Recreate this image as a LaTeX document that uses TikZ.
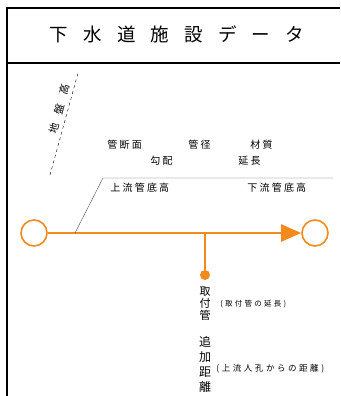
\documentclass[tikz,border=0pt]{standalone}
\usepackage{fontspec}
\setmainfont{Noto Sans CJK JP}
\newfontfamily\jpsp[LetterSpace=22]{Noto Sans CJK JP}
\newfontfamily\jpnote[LetterSpace=30]{Noto Sans CJK JP}
\newfontfamily\jptitle[LetterSpace=82]{Noto Sans CJK JP}
\newfontfamily\jpwide[LetterSpace=90]{Noto Sans CJK JP}
\usetikzlibrary{arrows.meta}
\definecolor{pipeorange}{HTML}{F28A1E}

\begin{document}
\begin{tikzpicture}[x=1pt, y=-1pt, thick,
  mh/.style = {draw=pipeorange, line width=1.6pt, circle, minimum size=26pt, inner sep=0pt, fill=white},
  lbl/.style = {inner sep=0pt, anchor=west, font=\jpsp\fontsize{10}{10}\selectfont},
  note/.style = {inner sep=0pt, anchor=west, font=\jpnote\fontsize{7.5}{8}\selectfont},
  vtext/.style = {inner sep=0pt, align=center}]
  \useasboundingbox (0,0) rectangle (340,396);

  % frame
  \draw[line width=1.2pt] (7,396) -- (7,8) -- (340,8);
  \draw[line width=1.2pt] (7,63) -- (340,63);
  \node[inner sep=0pt, font=\jptitle\fontsize{18.5}{18}\selectfont] (title) at (177,34) {下水道施設データ};

  % manholes and pipe
  \node[mh] (up) at (34,233) {};
  \node[mh] (down) at (315,233) {};
  \coordinate (j) at (205,233);
  \node[circle, fill=pipeorange, inner sep=0pt, minimum size=10pt] (tap) at (205,275) {};

  \draw[pipeorange, line width=2.5pt, -{Triangle[length=20pt,width=17pt]}] (up) -- (down);
  \draw[pipeorange, line width=2pt] (j) -- (tap);

  % ground height
  \coordinate (g1) at (50,175);
  \coordinate (g2) at (78,73);
  \draw[dashed, thin] (g1) -- (g2);
  \node[inner sep=0pt, rotate=75, font=\jpwide\fontsize{10.5}{10}\selectfont] (gl) at (59,109) {地盤高};

  % pipe data
  \coordinate (s0) at (75,233);
  \coordinate (s1) at (103,178);
  \coordinate (s2) at (333,178);
  \draw[thin, black!70] (s0) -- (s1) -- (s2);

  \node[lbl] (sec) at (107,145) {管断面};
  \node[lbl] (dia) at (188,145) {管径};
  \node[lbl] (mat) at (250,145) {材質};
  \node[lbl] (slope) at (150,161) {勾配};
  \node[lbl] (len) at (238,161) {延長};
  \node[lbl] (upinv) at (110,188) {上流管底高};
  \node[lbl] (dninv) at (247,188) {下流管底高};

  % lateral
  \node[vtext, font=\fontsize{11}{12}\selectfont] (lat) at (205,304) {取\\付\\管};
  \node[note] (latn) at (220,304) {(取付管の延長)};
  \node[vtext, font=\fontsize{12}{15}\selectfont] (dist) at (205,364) {追\\加\\距\\離};
  \node[note, font=\jpnote\fontsize{8.5}{9}\selectfont] (distn) at (216,369) {(上流人孔からの距離)};
\end{tikzpicture}
\end{document}
